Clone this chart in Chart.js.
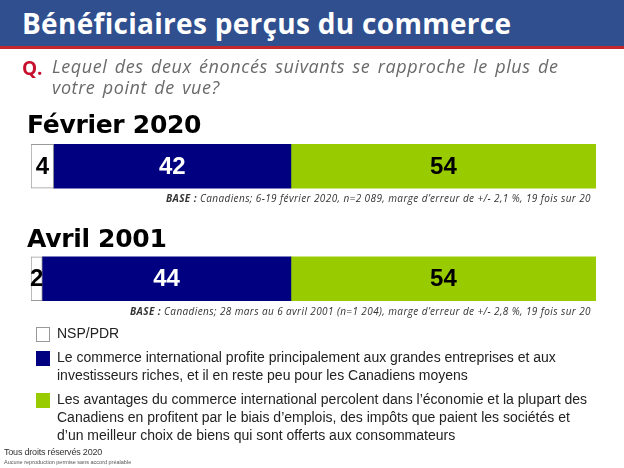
<!DOCTYPE html>
<html lang="fr">
<head>
<meta charset="utf-8">
<script src="https://cdn.jsdelivr.net/npm/chart.js@4/dist/chart.umd.min.js"></script>
<style>
  html, body { margin: 0; padding: 0; background: #fff; }
  #page { position: relative; width: 624px; height: 468px; overflow: hidden; font-family: "Liberation Sans", Arial, sans-serif; }
  #wrap { position: absolute; left: 0; top: 0; width: 624px; height: 468px; }
  .abs { position: absolute; white-space: nowrap; }
  #header { left: 0; top: 0; width: 624px; height: 46px; background: #2f4f8f; border-bottom: 3px solid #c1272d; }
  #title { left: 22px; top: 4px; color: #fff; font: bold 28px "Open Sans", sans-serif; letter-spacing: 0.3px; }
  #q { left: 22px; top: 55px; color: #c8102e; font: bold 19px "Open Sans", sans-serif; }
  #question { left: 52px; top: 56px; color: #6a6a6a; font: italic 18px "Open Sans", sans-serif; line-height: 21px; letter-spacing: 0.6px; word-spacing: 2px; }
  .period { left: 27px; color: #000; font: bold 25px "DejaVu Sans", sans-serif; letter-spacing: -0.3px; }
  .base { right: 33px; color: #333; font: italic 10px "Open Sans", sans-serif; letter-spacing: 0.4px; }
  .base b { font-weight: bold; }
  #legend { left: 36px; top: 324px; }
  .item { position: relative; padding-left: 21px; margin-bottom: 6px; color: #222; font: 14px "Liberation Sans", Arial, sans-serif; line-height: 18px; white-space: normal; width: 535px; }
  .box { position: absolute; left: 0; top: 3px; width: 14px; height: 15px; box-sizing: border-box; }
  #foot1 { left: 4px; top: 447px; color: #333; font: 9px "Liberation Sans", Arial, sans-serif; letter-spacing: -0.2px; }
  #foot2 { left: 4px; top: 459px; color: #555; font: 5.5px "Liberation Sans", Arial, sans-serif; }
</style>
</head>
<body>
<div id="page">
  <div id="wrap"><canvas id="chart"></canvas></div>
  <div id="header" class="abs"></div>
  <div id="title" class="abs">Bénéficiaires perçus du commerce</div>
  <div id="q" class="abs">Q.</div>
  <div id="question" class="abs">Lequel des deux énoncés suivants se rapproche le plus de<br>votre point de vue?</div>
  <div id="p0" class="abs period" style="top:110px"></div>
  <div id="b0" class="abs base" style="top:191px"></div>
  <div id="p1" class="abs period" style="top:224px"></div>
  <div id="b1" class="abs base" style="top:304px"></div>
  <div id="legend" class="abs"></div>
  <div id="foot1" class="abs">Tous droits réservés 2020</div>
  <div id="foot2" class="abs">Aucune reproduction permise sans accord préalable</div>
</div>
<script>
const periods = ['Février 2020', 'Avril 2001'];
const nspPdr = [4, 2];
const grandesEntreprises = [42, 44];
const avantagesPercolent = [54, 54];

const seriesLabels = [
  'NSP/PDR',
  'Le commerce international profite principalement aux grandes entreprises et aux investisseurs riches, et il en reste peu pour les Canadiens moyens',
  'Les avantages du commerce international percolent dans l\u2019économie et la plupart des Canadiens en profitent par le biais d\u2019emplois, des impôts que paient les sociétés et d\u2019un meilleur choix de biens qui sont offerts aux consommateurs'
];
const bases = [
  'Canadiens; 6-19 février 2020, n=2 089, marge d\u2019erreur de +/- 2,1 %, 19 fois sur 20',
  'Canadiens; 28 mars au 6 avril 2001 (n=1 204), marge d\u2019erreur de +/- 2,8 %, 19 fois sur 20'
];

const colors = ['#ffffff', '#000080', '#99cc00'];
const labelColors = ['#000', '#fff', '#000'];

periods.forEach(function (p, i) {
  document.getElementById('p' + i).textContent = p;
  document.getElementById('b' + i).innerHTML = '<b>BASE :</b> ' + bases[i];
});

const legend = document.getElementById('legend');
seriesLabels.forEach(function (txt, i) {
  const d = document.createElement('div');
  d.className = 'item';
  const border = i === 0 ? 'border:1px solid #999;' : '';
  d.innerHTML = '<span class="box" style="background:' + colors[i] + ';' + border + '"></span>' + txt;
  legend.appendChild(d);
});

const valueLabels = {
  id: 'valueLabels',
  afterDatasetsDraw(chart) {
    const ctx = chart.ctx;
    ctx.save();
    ctx.font = 'bold 24px "Liberation Sans Narrow", "Liberation Sans", Arial, sans-serif';
    ctx.textAlign = 'center';
    ctx.textBaseline = 'middle';
    chart.data.datasets.forEach(function (ds, di) {
      chart.getDatasetMeta(di).data.forEach(function (bar, i) {
        const p = bar.getProps(['x', 'y', 'base'], true);
        ctx.fillStyle = labelColors[di];
        ctx.fillText(ds.data[i], (p.x + p.base) / 2, p.y + 1);
      });
    });
    ctx.restore();
  }
};

new Chart(document.getElementById('chart'), {
  type: 'bar',
  data: {
    labels: periods,
    datasets: [
      { label: seriesLabels[0], data: nspPdr, backgroundColor: colors[0], borderColor: '#999', borderWidth: 1, borderSkipped: false },
      { label: seriesLabels[1], data: grandesEntreprises, backgroundColor: colors[1] },
      { label: seriesLabels[2], data: avantagesPercolent, backgroundColor: colors[2] }
    ]
  },
  options: {
    indexAxis: 'y',
    responsive: true,
    maintainAspectRatio: false,
    animation: false,
    barThickness: 44,
    layout: { padding: { left: 31, right: 28, top: 110, bottom: 133 } },
    scales: {
      x: { stacked: true, min: 0, max: 100, display: false },
      y: { stacked: true, display: false }
    },
    plugins: { legend: { display: false }, tooltip: { enabled: false } }
  },
  plugins: [valueLabels]
});
</script>
</body>
</html>
